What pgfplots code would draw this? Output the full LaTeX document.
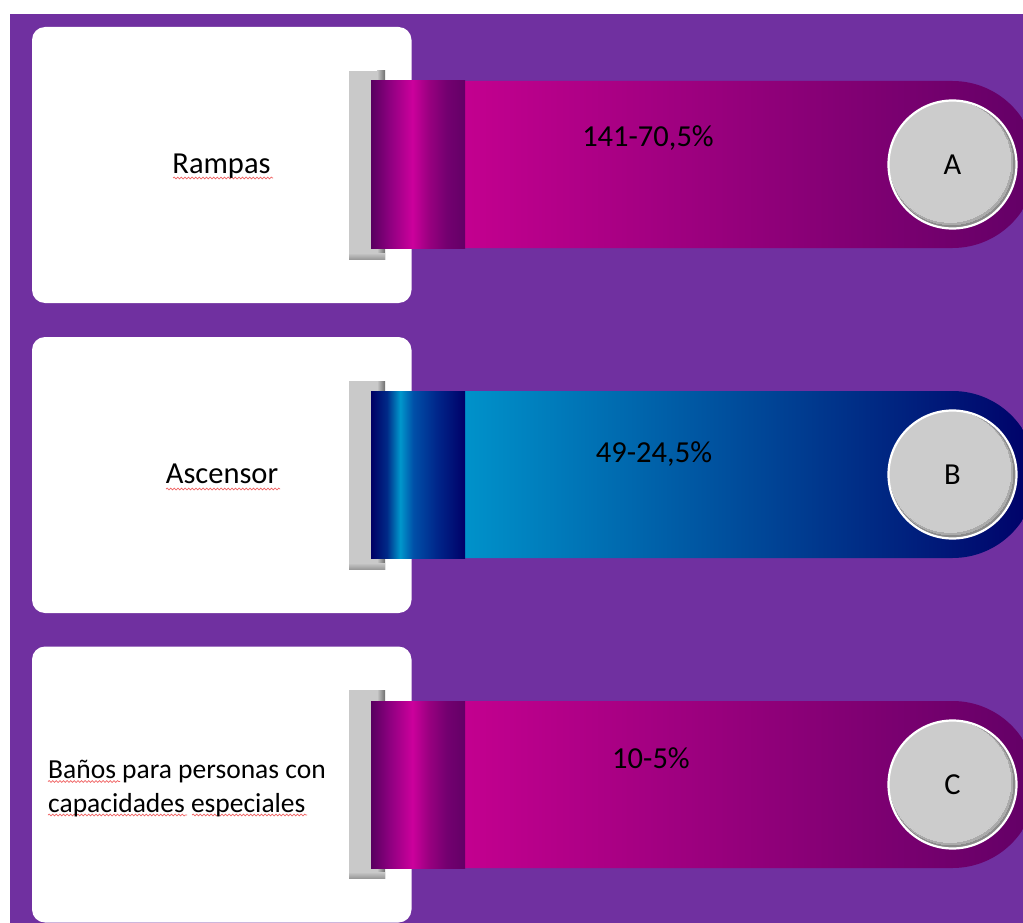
\documentclass[border=0pt]{standalone}
\usepackage{fontspec}
\setmainfont{Carlito}
\usepackage{pgfplots}
\usepackage{pgfplotstable}
\pgfplotsset{compat=1.18}
\usetikzlibrary{decorations.pathmorphing}

\definecolor{bgpurple}{HTML}{7030A0}
\definecolor{tabgray}{HTML}{C9C9C9}
\definecolor{tabdark}{HTML}{6E6E6E}
\definecolor{tabbot}{HTML}{9A9A9A}
\definecolor{circgray}{HTML}{CCCCCC}
\definecolor{circmid}{HTML}{ABABAB}
\definecolor{circshadow}{HTML}{8A8A8A}
\definecolor{magA}{HTML}{C3008F}
\definecolor{darkA}{HTML}{620066}
\definecolor{blueB}{HTML}{0092CA}
\definecolor{darkB}{HTML}{000068}
\definecolor{squig}{HTML}{F06464}
\definecolor{rAa}{HTML}{580060}
\definecolor{rAb}{HTML}{8E0080}
\definecolor{rAc}{HTML}{CC009C}
\definecolor{rAd}{HTML}{98007F}
\definecolor{rAe}{HTML}{740070}
\definecolor{rAf}{HTML}{620066}
\definecolor{rBa}{HTML}{000064}
\definecolor{rBb}{HTML}{002A88}
\definecolor{rBc}{HTML}{0098CC}
\definecolor{rBd}{HTML}{0050A8}
\definecolor{rBe}{HTML}{00268A}
\definecolor{rBf}{HTML}{000068}

\pgfdeclarehorizontalshading{bandA}{100bp}{color(0bp)=(magA); color(32.07bp)=(magA); color(75bp)=(darkA); color(100bp)=(darkA)}
\pgfdeclarehorizontalshading{bandB}{100bp}{color(0bp)=(blueB); color(32.07bp)=(blueB); color(75bp)=(darkB); color(100bp)=(darkB)}
\pgfdeclarehorizontalshading{rollA}{100bp}{color(0bp)=(rAa); color(25bp)=(rAa); color(35bp)=(rAb); color(47bp)=(rAc); color(56bp)=(rAd); color(65bp)=(rAe); color(75bp)=(rAf); color(100bp)=(rAf)}
\pgfdeclarehorizontalshading{rollB}{100bp}{color(0bp)=(rBa); color(25bp)=(rBa); color(33.5bp)=(rBb); color(40.5bp)=(rBc); color(47.5bp)=(rBd); color(60bp)=(rBe); color(75bp)=(rBf); color(100bp)=(rBf)}

% responses: count, percent, position of the label
\pgfplotstableread{
xpos ypos count pct letter cx cy
648 147 141 70.5 A 952.5 164.5
654 462 49 24.5 B 952.5 474.5
651 768 10 5 C 952.5 784.5
}\datatable

\newcommand{\band}[3]{% top y, shading of band, shading of roll
  \addplot[draw=none, shading=#2, rounded corners=83.5pt]
    coordinates {(700,#1) (1036,#1) (1036,#1+167) (371,#1+167) (371,#1)} -- cycle;
  \addplot[draw=none, shading=#3]
    coordinates {(371,#1) (465,#1) (465,#1+167) (371,#1+167)} -- cycle;
}
\newcommand{\whitebox}[1]{%
  \addplot[fill=white, draw=none, rounded corners=13pt]
    coordinates {(221,#1) (411.5,#1) (411.5,#1+276) (32,#1+276) (32,#1)} -- cycle;
}
\newcommand{\tab}[1]{% top y
  \addplot[fill=tabgray, draw=none]
    coordinates {(349,#1) (385,#1) (385,#1+188) (349,#1+188)} -- cycle;
  \addplot[draw=none, left color=tabgray, right color=tabdark]
    coordinates {(377,#1) (385,#1) (385,#1+188) (377,#1+188)} -- cycle;
  \addplot[draw=none, top color=tabgray, bottom color=tabbot]
    coordinates {(349,#1+182) (385,#1+182) (385,#1+188) (349,#1+188)} -- cycle;
}

\begin{document}
\begin{tikzpicture}
\begin{axis}[
  hide axis, scale only axis,
  width=1023pt, height=923pt,
  xmin=0, xmax=1023, ymin=0, ymax=923,
  y dir=reverse,
  clip bounding box=upper bound,
]
% page (white margin) and background
\addplot[fill=white, draw=none]
  coordinates {(0,0) (1023,0) (1023,923) (0,923)} -- cycle;
\addplot[fill=bgpurple, draw=none]
  coordinates {(10,14) (1023,14) (1023,923) (10,923)} -- cycle;
% white cards
\whitebox{27}
\whitebox{337}
\whitebox{646.5}
% grey tabs
\tab{71}
\tab{381}
\tab{690}
% bands
\band{81}{bandA}{rollA}
\band{391}{bandB}{rollB}
\band{701}{bandA}{rollA}
% circles with an inner shadow at the lower right
\addplot[only marks, mark=*, mark size=62.8pt, mark options={fill=circshadow, draw=circshadow, line width=0pt}]
  table[x=cx, y=cy]{\datatable};
\addplot[only marks, mark=*, mark size=61.6pt, mark options={fill=circmid, draw=circmid, line width=0pt}]
  table[x expr=\thisrow{cx}-1.2, y expr=\thisrow{cy}-1.4]{\datatable};
\addplot[only marks, mark=*, mark size=60.6pt, mark options={fill=circgray, draw=circgray, line width=0pt}]
  table[x expr=\thisrow{cx}-2.4, y expr=\thisrow{cy}-2.8]{\datatable};
\addplot[only marks, mark=o, mark size=64pt, mark options={draw=white, line width=2.2pt}]
  table[x=cx, y=cy]{\datatable};
% letters
\addplot[draw=none, mark=none, nodes near coords, point meta=explicit symbolic,
  nodes near coords style={anchor=center, inner sep=0pt, text=black,
    font=\fontsize{30.5}{36}\selectfont}]
  table[x=cx, y=cy, meta=letter]{\datatable};
% counts and percentages
\addplot[draw=none, mark=none,
  visualization depends on={\thisrow{count}\as\cnt},
  visualization depends on={\thisrow{pct}\as\pctv},
  nodes near coords={\pgfmathprintnumber[fixed, precision=0]{\cnt}-\pgfmathprintnumber[fixed, precision=1, use comma]{\pctv}\%},
  nodes near coords style={anchor=base, inner sep=0pt, text=black,
    font=\fontsize{30.5}{36}\selectfont,
    /pgf/number format/assume math mode=true}]
  table[x=xpos, y=ypos]{\datatable};
% card labels
\addplot[draw=none, mark=none, nodes near coords, point meta=explicit symbolic,
  nodes near coords style={anchor=base, inner sep=0pt, text=black,
    font=\fontsize{30.5}{36}\selectfont}]
  coordinates {(221.5,173) [Rampas] (222,483) [Ascensor]};
\addplot[draw=none, mark=none, nodes near coords, point meta=explicit symbolic,
  nodes near coords style={anchor=base west, inner sep=0pt, text=black,
    font=\fontsize{27.5}{34}\selectfont}]
  coordinates {(48,778) [Baños para personas con] (48,812) [capacidades especiales]};
% spell-check squiggles
\begin{scope}[squig, line width=0.7pt, decoration={snake, amplitude=0.9pt, segment length=3.6pt}]
\draw[decorate] (axis cs:173,178) -- (axis cs:273,178);
\draw[decorate] (axis cs:166,489) -- (axis cs:280,489);
\draw[decorate] (axis cs:48,781.5) -- (axis cs:120,781.5);
\draw[decorate] (axis cs:48,815) -- (axis cs:187,815);
\draw[decorate] (axis cs:192,815) -- (axis cs:307,815);
\end{scope}
\end{axis}
\end{tikzpicture}
\end{document}
